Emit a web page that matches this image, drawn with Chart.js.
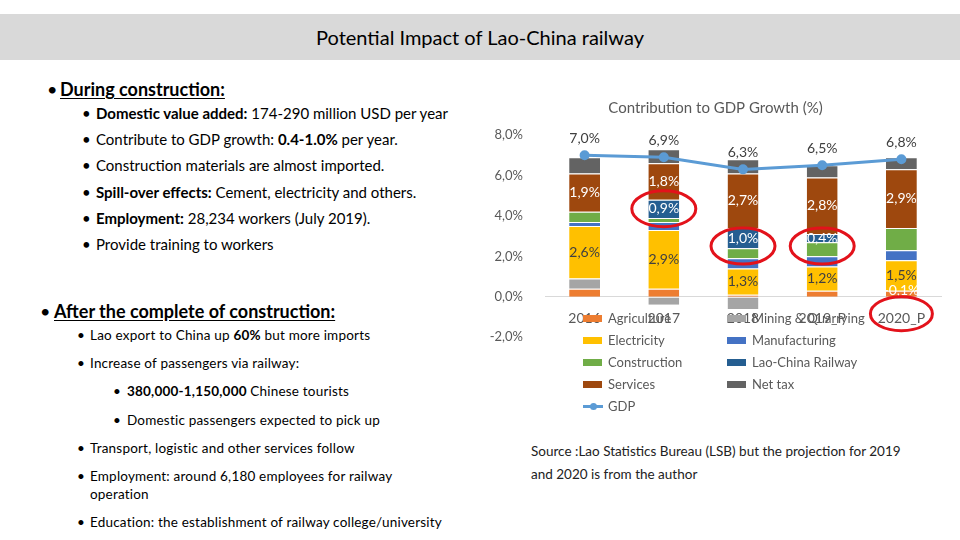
<!DOCTYPE html>
<html>
<head>
<meta charset="utf-8">
<script src="https://cdn.jsdelivr.net/npm/chart.js@4.4.1/dist/chart.umd.min.js"></script>
<style>
    body { margin: 0; width: 960px; height: 540px; background: #fff; font-family: Lato, "Open Sans", sans-serif; color: #000; overflow: hidden; position: relative; }
    #titleBar { position: absolute; left: 0; top: 14px; width: 960px; height: 46px; background: #d9d9d9; text-align: center; line-height: 46px; font-size: 20px; font-weight: normal; }
    .ln { position: absolute; white-space: nowrap; }
    .head { font-size: 18px; font-weight: bold; line-height: 22px; }
    .head u { text-underline-offset: 2px; }
    .s1 { font-size: 15px; line-height: 20px; }
    .s2 { font-size: 13.5px; line-height: 18px; letter-spacing: 0.2px; }
    #divGraph { position: absolute; left: 490px; top: 95px; width: 470px; height: 264px; }
    .lg { position: absolute; font-size: 13px; color: #595959; line-height: 16px; white-space: nowrap; }
    .lg i { position: absolute; left: 0; top: 5px; width: 19px; height: 7px; }
    .lg span { position: absolute; left: 25px; top: 0; }
    #source { position: absolute; left: 531px; top: 440px; font-size: 13.5px; line-height: 23px; color: #222; }
</style>
</head>
<body>
<div id="titleBar">Potential Impact of Lao-China railway</div>

<div class="ln head" style="left:47px;top:78px;font-weight:normal">•</div>
<div class="ln head" style="left:60px;top:78px"><u>During construction:</u></div>

<div class="ln s1" style="left:82px;top:103px">•</div>
<div class="ln s1" style="left:96px;top:103px"><b>Domestic value added:</b> 174-290 million USD per year</div>
<div class="ln s1" style="left:82px;top:129px">•</div>
<div class="ln s1" style="left:96px;top:129px">Contribute to GDP growth: <b>0.4-1.0%</b> per year.</div>
<div class="ln s1" style="left:82px;top:155px">•</div>
<div class="ln s1" style="left:96px;top:155px">Construction materials are almost imported.</div>
<div class="ln s1" style="left:82px;top:182px">•</div>
<div class="ln s1" style="left:96px;top:182px"><b>Spill-over effects:</b> Cement, electricity and others.</div>
<div class="ln s1" style="left:82px;top:208px">•</div>
<div class="ln s1" style="left:96px;top:208px"><b>Employment:</b> 28,234 workers (July 2019).</div>
<div class="ln s1" style="left:82px;top:234px">•</div>
<div class="ln s1" style="left:96px;top:234px">Provide training to workers</div>

<div class="ln head" style="left:40px;top:300px;font-weight:normal">•</div>
<div class="ln head" style="left:54px;top:300px"><u>After the complete of construction:</u></div>

<div class="ln s2" style="left:77px;top:326px">•</div>
<div class="ln s2" style="left:90px;top:326px">Lao export to China up <b>60%</b> but more imports</div>
<div class="ln s2" style="left:77px;top:354px">•</div>
<div class="ln s2" style="left:90px;top:354px">Increase of passengers via railway:</div>
<div class="ln s2" style="left:113px;top:382px">•</div>
<div class="ln s2" style="left:127px;top:382px"><b>380,000-1,150,000</b> Chinese tourists</div>
<div class="ln s2" style="left:113px;top:411px">•</div>
<div class="ln s2" style="left:127px;top:411px">Domestic passengers expected to pick up</div>
<div class="ln s2" style="left:77px;top:439px">•</div>
<div class="ln s2" style="left:90px;top:439px">Transport, logistic and other services follow</div>
<div class="ln s2" style="left:77px;top:467px">•</div>
<div class="ln s2" style="left:90px;top:467px">Employment: around 6,180 employees for railway<br>operation</div>
<div class="ln s2" style="left:77px;top:513px">•</div>
<div class="ln s2" style="left:90px;top:513px">Education: the establishment of railway college/university</div>

<div id="divGraph"><canvas id="canvGraph"></canvas></div>
<div id="divLegend"></div>

<div id="source">Source :Lao Statistics Bureau (LSB) but the projection for 2019<br>and 2020 is from the author</div>

<script>
var years = ['2016', '2017', '2018', '2019_P', '2020_P'];

var agriculture = [0.4, 0.4, 0.1, 0.3, 0.3];
var mining = [0.5, -0.4, -0.6, 0, -0.1];
var electricity = [2.6, 2.9, 1.3, 1.2, 1.5];
var manufacturing = [0.2, 0.4, 0.5, 0.5, 0.5];
var construction = [0.5, 0.2, 0.5, 0.7, 1.1];
var railway = [0, 0.9, 1.0, 0.4, 0];
var services = [1.9, 1.8, 2.7, 2.8, 2.9];
var netTax = [0.8, 0.7, 0.7, 0.6, 0.6];
var gdp = [7.0, 6.9, 6.3, 6.5, 6.8];

var yTicks = [-2, 0, 2, 4, 6, 8];

// only these points carry a label in the original
var miningLabelMask = [false, false, false, false, true];
var circledRailway = [1, 2, 3];
var circledYear = 4;

var _chart;

document.addEventListener('DOMContentLoaded', function () {
    buildChart();
    buildLegend();
});

function formatPct(v) {
    return v.toFixed(1).replace('.', ',') + '%';
}

function barSet(label, data, color, labelColor, mask) {
    return {
        type: 'bar',
        label: label,
        data: data,
        backgroundColor: color,
        borderColor: '#ffffff',
        borderWidth: {top: 1},
        borderSkipped: false,
        stack: 'gdp',
        order: 2,
        labelColor: labelColor,
        labelMask: mask
    };
}

var segmentLabels = {
    id: 'segmentLabels',
    afterDatasetsDraw: function (chart) {
        var ctx = chart.ctx;
        ctx.save();
        ctx.font = '14px Lato';
        ctx.textAlign = 'center';
        ctx.textBaseline = 'middle';
        chart.data.datasets.forEach(function (ds, i) {
            if (!ds.labelColor) return;
            var meta = chart.getDatasetMeta(i);
            meta.data.forEach(function (el, j) {
                var v = ds.data[j];
                if (!v) return;
                if (ds.labelMask && !ds.labelMask[j]) return;
                var y = ds.type === 'line' ? el.y - 17 : (el.y + el.base) / 2;
                if (ds.type !== 'line' && v < 0) y = el.base - 6;
                ctx.fillStyle = ds.labelColor;
                ctx.fillText(formatPct(v), el.x, y);
            });
        });
        ctx.restore();
    }
};

var redCircles = {
    id: 'redCircles',
    afterDraw: function (chart) {
        var ctx = chart.ctx;
        var meta = chart.getDatasetMeta(5);
        ctx.save();
        ctx.strokeStyle = '#e3121b';
        ctx.lineWidth = 3;
        circledRailway.forEach(function (j) {
            var el = meta.data[j];
            var cy = (el.y + el.base) / 2 + (j === 1 ? 0 : 8);
            ctx.beginPath();
            ctx.ellipse(el.x, cy, 32, 18, 0, 0, Math.PI * 2);
            ctx.stroke();
        });
        var x = chart.scales.x.getPixelForValue(circledYear);
        var y0 = chart.scales.y.getPixelForValue(0);
        ctx.beginPath();
        ctx.ellipse(x, y0 + 17, 31, 17, 0, 0, Math.PI * 2);
        ctx.stroke();
        ctx.restore();
    }
};

function buildChart() {
    var ctx = document.getElementById('canvGraph').getContext('2d');

    var datasets = [
        barSet('Agriculture', agriculture, '#ed7d31'),
        barSet('Mining & Quarrying', mining, '#a5a5a5', '#ffffff', miningLabelMask),
        barSet('Electricity', electricity, '#ffc000', '#404040'),
        barSet('Manufacturing', manufacturing, '#4472c4'),
        barSet('Construction', construction, '#70ad47'),
        barSet('Lao-China Railway', railway, '#255e91', '#ffffff'),
        barSet('Services', services, '#9e480e', '#ffffff'),
        barSet('Net tax', netTax, '#636363'),
        {
            type: 'line',
            label: 'GDP',
            data: gdp,
            borderColor: '#5b9bd5',
            backgroundColor: '#5b9bd5',
            borderWidth: 3,
            pointRadius: 3.5,
            pointBackgroundColor: '#5b9bd5',
            stack: 'line',
            order: 1,
            tension: 0,
            labelColor: '#404040'
        }
    ];

    _chart = new Chart(ctx, {
        data: {labels: years, datasets: datasets},
        options: {
            responsive: true,
            maintainAspectRatio: false,
            animation: false,
            layout: {padding: {left: 0, right: 19, top: 0, bottom: 15}},
            datasets: {bar: {barPercentage: 0.78, categoryPercentage: 0.5}},
            plugins: {
                legend: {display: false},
                tooltip: {enabled: false},
                title: {
                    display: true,
                    text: 'Contribution to GDP Growth (%)',
                    color: '#595959',
                    font: {family: 'Lato', size: 15, weight: 'normal'},
                    padding: {top: 4, bottom: 18}
                }
            },
            scales: {
                x: {
                    stacked: true,
                    position: {y: 0},
                    grid: {display: false, drawTicks: false},
                    border: {display: true, color: '#d9d9d9', width: 1},
                    ticks: {color: '#595959', font: {family: 'Lato', size: 14}, padding: 13}
                },
                y: {
                    stacked: true,
                    min: yTicks[0],
                    max: yTicks[yTicks.length - 1],
                    afterBuildTicks: function (scale) {
                        scale.ticks = yTicks.map(function (v) { return {value: v}; });
                    },
                    afterFit: function (scale) { scale.width = 55; },
                    grid: {display: false},
                    border: {display: false},
                    ticks: {
                        color: '#595959',
                        font: {family: 'Lato', size: 13},
                        padding: 14,
                        callback: function (v) { return formatPct(v); }
                    }
                }
            }
        },
        plugins: [segmentLabels, redCircles]
    });
}

function buildLegend() {
    var $divLegend = document.getElementById('divLegend');
    var colX = [583, 727];
    var html = '';
    _chart.data.datasets.forEach(function (ds, i) {
        var left = colX[i % 2];
        var top = 310 + Math.floor(i / 2) * 22;
        var mark;
        if (ds.type === 'line') {
            mark = '<i style="background:' + ds.borderColor + ';height:3px;top:7px;width:20px"></i>' +
                   '<i style="background:' + ds.borderColor + ';width:7px;height:7px;top:5px;left:7px;border-radius:50%"></i>';
        } else {
            mark = '<i style="background:' + ds.backgroundColor + '"></i>';
        }
        html += '<div class="lg" style="left:' + left + 'px;top:' + top + 'px">' + mark +
                '<span>' + ds.label + '</span></div>';
    });
    $divLegend.innerHTML = html;
}
</script>
</body>
</html>
